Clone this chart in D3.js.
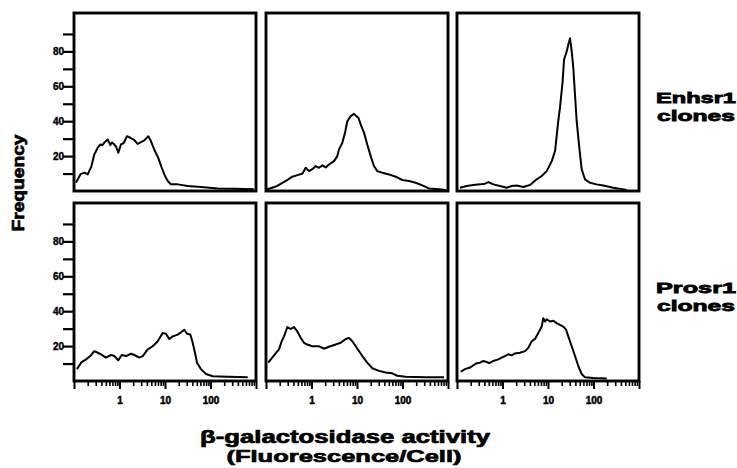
<!DOCTYPE html>
<html>
<head>
<meta charset="utf-8">
<script src="https://cdn.jsdelivr.net/npm/d3@7"></script>
<style>
  html, body { margin: 0; padding: 0; background: #fff; }
  svg { display: block; }
</style>
</head>
<body>
<svg id="chart" width="737" height="468"></svg>
<script>
// ---- data: [fluorescence per cell, frequency] ----
const enhsr1A = [[0.11,4.7],[0.14,9.7],[0.17,10.5],[0.2,9.5],[0.24,14],[0.28,21],[0.3,22.5],[0.33,24.7],[0.36,26],[0.39,26.7],[0.42,26.2],[0.46,27.6],[0.5,28.5],[0.55,29.5],[0.63,26.3],[0.68,27.8],[0.75,27],[0.8,26],[0.84,25.5],[0.94,21.9],[1.08,26.7],[1.24,27.5],[1.46,31.4],[1.73,30.5],[2.05,29.5],[2.51,27],[2.97,28],[3.51,29],[4.3,31.4],[4.9,28.6],[6.0,22.9],[7.1,19],[8.5,13.3],[10,8.6],[11.5,5.7],[13.5,3.8],[19,3.8],[31.6,2.9],[62,2.3],[144,1.5],[330,1.3],[900,1]];
const enhsr1B = [[0.107,1],[0.137,1.9],[0.177,2.9],[0.228,4.7],[0.294,6.3],[0.379,8.2],[0.488,9.1],[0.628,9.9],[0.746,13.3],[0.881,11.4],[1.04,12.5],[1.24,14.3],[1.46,13.3],[1.73,14.7],[2.05,13.5],[2.42,15.2],[3.13,17.1],[3.69,20],[4.02,23.8],[4.75,27.6],[5.45,33.3],[6.12,40],[7.27,42.9],[8.6,44.2],[9.66,42.9],[10.7,42],[12.1,38.1],[14.3,33.3],[16.8,26.7],[20,20],[23.6,14.3],[27.9,11.4],[36,10.5],[50.5,9.5],[70.8,8.2],[99,6.3],[139,5.7],[195,4.7],[272,3.2],[382,1.5],[632,1],[890,0.6]];
const enhsr1C = [[0.116,1.9],[0.163,2.9],[0.228,3.4],[0.32,3.8],[0.412,4.2],[0.488,5.1],[0.628,3.8],[0.881,2.9],[1.24,1.9],[1.59,2.9],[2.05,3.2],[2.87,2.3],[4.02,3.4],[5.65,6.7],[7.27,8.6],[9.36,11.4],[12.1,17.1],[14.3,22.9],[16.8,40],[18.3,47.6],[21,62.9],[22.5,75.2],[25.8,80],[27.9,83.8],[30.5,87.5],[33.2,80],[36,70.5],[39.2,55.2],[42.7,40],[48.8,24.7],[55,12.4],[65,6.7],[83.7,4.7],[117,3.8],[164,3.2],[272,1.9],[537,0.6]];
const prosr1A = [[0.116,6.8],[0.143,10.5],[0.184,12.4],[0.228,14.3],[0.279,17.1],[0.332,16.2],[0.392,15.3],[0.505,13.4],[0.65,14.9],[0.769,14.3],[0.942,11.9],[1.12,14.9],[1.39,14.3],[1.79,15.6],[2.12,14.9],[2.72,13.4],[3.24,14.3],[4.17,18.1],[5.37,19.9],[6.92,22.8],[8.9,27.5],[10.5,27.1],[12.4,24.1],[14.8,25.6],[19,26.6],[22.5,27.9],[26.6,29.4],[30.5,27.1],[36,26.6],[40.6,21.9],[45.6,16.2],[50.5,10.5],[61.8,6.8],[79.6,4],[112,2.7],[239,2.4],[658,2.1]];
const prosr1B = [[0.112,10.5],[0.137,13.4],[0.168,16.2],[0.193,18.1],[0.221,22.8],[0.249,25.6],[0.294,30.9],[0.349,29.8],[0.412,30.9],[0.488,28.4],[0.579,24.7],[0.684,21.9],[0.809,20.9],[1.04,19.9],[1.46,19.9],[1.88,18.5],[2.42,19.6],[3.4,20.9],[4.38,21.9],[5.65,24.1],[6.67,24.7],[7.88,22.8],[10.2,18.5],[13.1,14.3],[16.8,10.5],[21.7,7.3],[30.5,5.8],[42.7,4.9],[59.7,4.4],[76.9,3],[117,2.4],[324,2.1],[817,2.1]];
const prosr1C = [[0.121,5.3],[0.15,6.8],[0.193,7.7],[0.228,9],[0.271,10.2],[0.32,10.5],[0.379,11.5],[0.45,10.9],[0.513,10.2],[0.628,11.5],[0.809,12.4],[0.96,13.4],[1.13,14.3],[1.34,15.3],[1.59,14.7],[1.88,15.8],[2.42,16.2],[3.13,17.1],[3.69,19],[4.38,22.8],[5.18,24.1],[6.12,27.5],[7.27,31.2],[7.88,36],[8.6,34.1],[9.36,35.4],[11.1,34.1],[13.1,34.5],[15.5,33.2],[18.3,32.2],[21.7,31.2],[24.9,29.4],[27.9,25.6],[33.2,19.9],[39.2,14.3],[46.3,8.6],[55,4],[65,2.1],[99,1.7],[195,1.5]];

const rowLabels = [["Enhsr1", "clones"], ["Prosr1", "clones"]];
const yTickValues = [10, 20, 30, 40, 50, 60, 70, 80, 90];
const yTickLabels = [20, 40, 60, 80];
const xMajorTicks = [0.1, 1, 10, 100, 1000];
const xTickLabels = [1, 10, 100];
const xDomain = [0.1, 1000];
const yDomain = [0, 102];
const yTitle = "Frequency";
const xTitle = ["\u03B2-galactosidase activity", "(Fluorescence/Cell)"];

const series = [[enhsr1A, enhsr1B, enhsr1C], [prosr1A, prosr1B, prosr1C]];

// ---- layout ----
const colX = [74, 266, 457];
const rowY = [13, 203];
const pw = 182, ph = 178;
const FONT = "'Liberation Sans', Arial, Helvetica, sans-serif";

const svg = d3.select("#chart");

const x = d3.scaleLog().domain(xDomain).range([0, pw]);
const y = d3.scaleLinear().domain(yDomain).range([ph, 0]);
const line = d3.line().x(d => x(d[0])).y(d => y(d[1]));

const minorTicks = [];
xMajorTicks.slice(0, -1).forEach(m => { for (let k = 2; k <= 9; k++) minorTicks.push(m * k); });

series.forEach((row, r) => {
  row.forEach((data, c) => {
    const g = svg.append("g").attr("transform", `translate(${colX[c]},${rowY[r]})`);

    // curve
    g.append("path").datum(data)
      .attr("d", line)
      .attr("fill", "none")
      .attr("stroke", "#000")
      .attr("stroke-width", 2)
      .attr("stroke-linejoin", "round");

    // frame
    g.append("rect").attr("x", 0).attr("y", 0).attr("width", pw).attr("height", ph)
      .attr("fill", "none").attr("stroke", "#000").attr("stroke-width", 2.9);

    // y axis on left column
    if (c === 0) {
      const ya = g.append("g").call(
        d3.axisLeft(y).tickValues(yTickValues).tickSize(11).tickPadding(-1)
          .tickFormat(d => yTickLabels.includes(d) ? d : "")
      );
      ya.select(".domain").remove();
      ya.selectAll(".tick line").attr("stroke", "#000").attr("stroke-width", 2.2);
      ya.selectAll(".tick text")
        .attr("font-family", FONT).attr("font-weight", "bold").attr("font-size", 10)
        .attr("fill", "#000").attr("stroke", "#000").attr("stroke-width", 0.4);
    }

    // x axis on bottom row
    if (r === 1) {
      const xm = g.append("g").attr("transform", `translate(0,${ph})`)
        .call(d3.axisBottom(x).tickValues(minorTicks).tickSize(5).tickFormat(""));
      xm.select(".domain").remove();
      xm.selectAll(".tick line").attr("stroke", "#000").attr("stroke-width", 1.6);

      const xa = g.append("g").attr("transform", `translate(0,${ph})`)
        .call(d3.axisBottom(x).tickValues(xMajorTicks).tickSize(8).tickPadding(8)
          .tickFormat(d => xTickLabels.includes(d) ? d3.format("d")(d) : ""));
      xa.select(".domain").remove();
      xa.selectAll(".tick line").attr("stroke", "#000").attr("stroke-width", 2);
      xa.selectAll(".tick text")
        .attr("font-family", FONT).attr("font-weight", "bold").attr("font-size", 10)
        .attr("fill", "#000").attr("stroke", "#000").attr("stroke-width", 0.5);
    }
  });

  // row labels
  const rl = svg.append("g");
  rl.append("text").attr("x", 656).attr("y", rowY[r] + 90)
    .attr("textLength", 80).attr("lengthAdjust", "spacingAndGlyphs")
    .text(rowLabels[r][0]);
  rl.append("text").attr("x", 657).attr("y", rowY[r] + 108)
    .attr("textLength", 78).attr("lengthAdjust", "spacingAndGlyphs")
    .text(rowLabels[r][1]);
  rl.selectAll("text").attr("font-family", FONT).attr("font-weight", "bold")
    .attr("font-size", 15).attr("fill", "#000").attr("stroke", "#000").attr("stroke-width", 0.8);
});

// y title
svg.append("text")
  .attr("transform", "translate(24,183) rotate(-90)")
  .attr("text-anchor", "middle")
  .attr("textLength", 97).attr("lengthAdjust", "spacingAndGlyphs")
  .attr("font-family", FONT).attr("font-weight", "bold").attr("font-size", 17)
  .attr("fill", "#000").attr("stroke", "#000").attr("stroke-width", 0.7)
  .text(yTitle);

// x title
svg.append("text").attr("x", 345).attr("y", 443)
  .attr("text-anchor", "middle")
  .attr("textLength", 290).attr("lengthAdjust", "spacingAndGlyphs")
  .attr("font-size", 18)
  .text(xTitle[0]);
svg.append("text").attr("x", 344).attr("y", 462)
  .attr("text-anchor", "middle")
  .attr("textLength", 235).attr("lengthAdjust", "spacingAndGlyphs")
  .attr("font-size", 17)
  .text(xTitle[1]);
svg.selectAll("text:not([font-family])")
  .attr("font-family", FONT).attr("font-weight", "bold")
  .attr("fill", "#000").attr("stroke", "#000").attr("stroke-width", 0.7);
</script>
</body>
</html>
